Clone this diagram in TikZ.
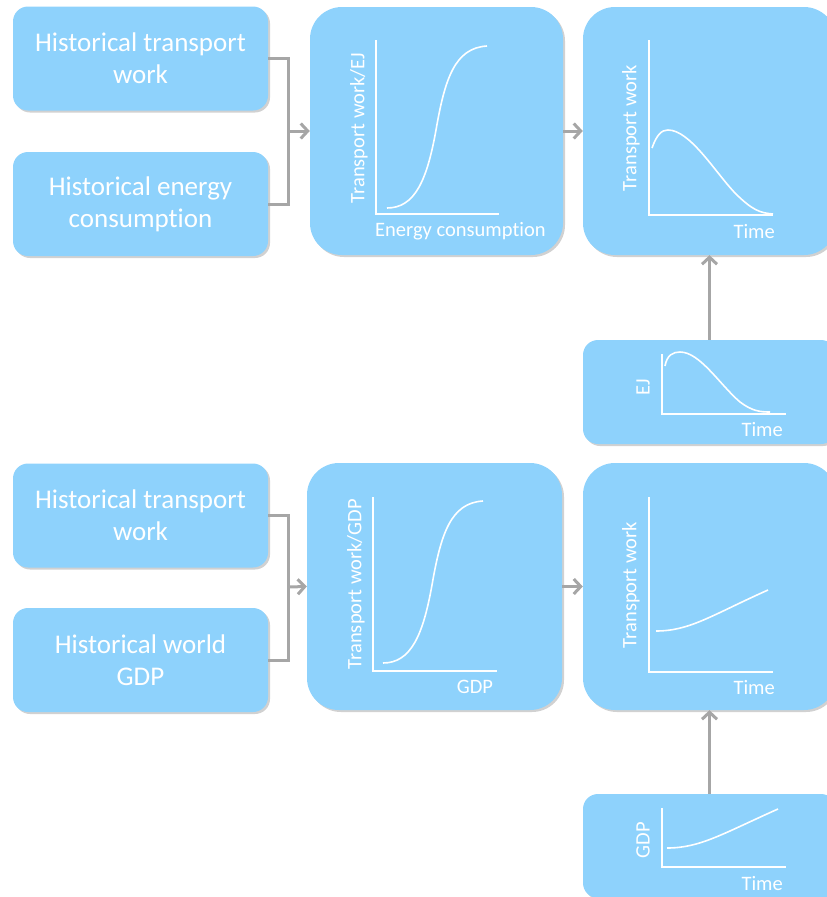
\documentclass[tikz,border=0pt]{standalone}
\usepackage{fontspec}
\setmainfont{Carlito}[Ligatures=NoCommon]
\usetikzlibrary{arrows.meta, positioning, shadows}
\definecolor{skyfill}{RGB}{142,210,252}
\definecolor{linkgray}{RGB}{166,166,166}

\begin{document}
\begin{tikzpicture}[x=1pt, y=-1pt,
    card/.style={fill=skyfill, draw=none, rounded corners=#1, inner sep=0pt,
                 drop shadow={shadow xshift=2pt, shadow yshift=-2pt, opacity=0.3, fill=black!60}},
    inbox/.style={card=15pt, minimum width=255pt, minimum height=104pt, align=center,
                  text=white, font=\fontsize{27}{32}\selectfont},
    plotbox/.style={card=32pt, minimum width=253pt, minimum height=248pt},
    small/.style={card=15pt, minimum width=253pt, minimum height=104pt},
    axis/.style={draw=white, line width=2pt},
    curve/.style={draw=white, line width=1.6pt},
    lbl/.style={text=white, font=\fontsize{20.5}{24}\selectfont, inner sep=0pt},
    link/.style={draw=linkgray, line width=3pt},
    arr/.style={link, -{Straight Barb[length=7pt, width=15pt, line width=3pt]}},
]
    \useasboundingbox (0,0) rectangle (827,897);
    \clip (0,0) rectangle (827,897);

    % === energy route ===
    \node[inbox] (hwork1) at (140.5, 58.5) {Historical transport\\work};
    \node[inbox] (henergy) at (140.5, 204) {Historical energy\\consumption};
    \node[plotbox] (ratioEJ) at (436.5, 131) {};
    \node[plotbox] (workEJ) at (709.5, 131) {};
    \node[small] (scenEJ) at (709.5, 392) {};

    \coordinate (join1) at (288, 131);
    \draw[link] (hwork1.east) -| (join1) |- (henergy.east);
    \draw[arr] (join1) -- (ratioEJ.west);
    \draw[arr] (ratioEJ.east) -- (workEJ.west);
    \draw[arr] (scenEJ.north) -- (workEJ.south);

    % S-curve: transport work per EJ
    \draw[axis] (376, 40) -- (376, 214) -- (499, 214);
    \draw[curve] (387, 208) .. controls (415, 208) and (427, 180) .. (436, 130)
                 .. controls (445, 78) and (455, 48) .. (487, 46);
    \node[lbl, rotate=90] (ylblEJ) at (359, 128) {Transport work/EJ};
    \node[lbl, anchor=west] (xlblEJ) at (375, 231) {Energy consumption};

    % hump: transport work over time
    \draw[axis] (649, 40) -- (649, 215) -- (773, 215);
    \draw[curve] (652, 148) .. controls (657, 134) and (662, 130) .. (668, 130)
                 .. controls (690, 130) and (715, 172) .. (735, 193)
                 .. controls (752, 210) and (760, 213) .. (773, 214);
    \node[lbl, rotate=90] (ylblTW1) at (631, 128) {Transport work};
    \node[lbl, anchor=east] (xlblT1) at (775, 232) {Time};

    % small: EJ over time
    \draw[axis] (662, 354) -- (662, 414) -- (786, 414);
    \draw[curve] (665, 366) .. controls (667, 355) and (673, 352) .. (680, 352)
                 .. controls (700, 352) and (720, 385) .. (740, 402)
                 .. controls (752, 411) and (760, 412) .. (770, 412);
    \node[lbl, rotate=90] (ylblEJs) at (643, 387) {EJ};
    \node[lbl, anchor=east] (xlblT2) at (783, 430) {Time};

    % === GDP route ===
    \node[inbox] (hwork2) at (140.5, 515.5) {Historical transport\\work};
    \node[inbox] (hgdp) at (140.5, 660) {Historical world\\GDP};
    \node[plotbox, minimum width=255pt, minimum height=247pt] (ratioGDP) at (434.5, 586.5) {};
    \node[plotbox, minimum height=247pt] (workGDP) at (709.5, 586.5) {};
    \node[small] (scenGDP) at (709.5, 846) {};

    \coordinate (join2) at (288, 587);
    \draw[link] (hwork2.east) -| (join2) |- (hgdp.east);
    \draw[arr] (join2) -- (ratioGDP.west);
    \draw[arr] (ratioGDP.east) -- (workGDP.west);
    \draw[arr] (scenGDP.north) -- (workGDP.south);

    % S-curve: transport work per GDP
    \draw[axis] (373, 497) -- (373, 671) -- (497, 671);
    \draw[curve] (383, 663) .. controls (411, 663) and (423, 635) .. (432, 585)
                 .. controls (441, 533) and (451, 503) .. (483, 501);
    \node[lbl, rotate=90] (ylblGDP) at (356, 584) {Transport work/GDP};
    \node[lbl] (xlblGDP) at (475, 687) {GDP};

    % rising: transport work over time
    \draw[axis] (649, 497) -- (649, 672) -- (773, 672);
    \draw[curve] (656, 631) .. controls (690, 631) and (712, 615) .. (768, 590);
    \node[lbl, rotate=90] (ylblTW2) at (631, 585) {Transport work};
    \node[lbl, anchor=east] (xlblT3) at (775, 688) {Time};

    % small: GDP over time
    \draw[axis] (662, 808) -- (662, 867) -- (786, 867);
    \draw[curve] (667, 848) .. controls (700, 848) and (722, 834) .. (778, 809);
    \node[lbl, rotate=90] (ylblGDPs) at (643, 840) {GDP};
    \node[lbl, anchor=east] (xlblT4) at (783, 884) {Time};
\end{tikzpicture}
\end{document}
